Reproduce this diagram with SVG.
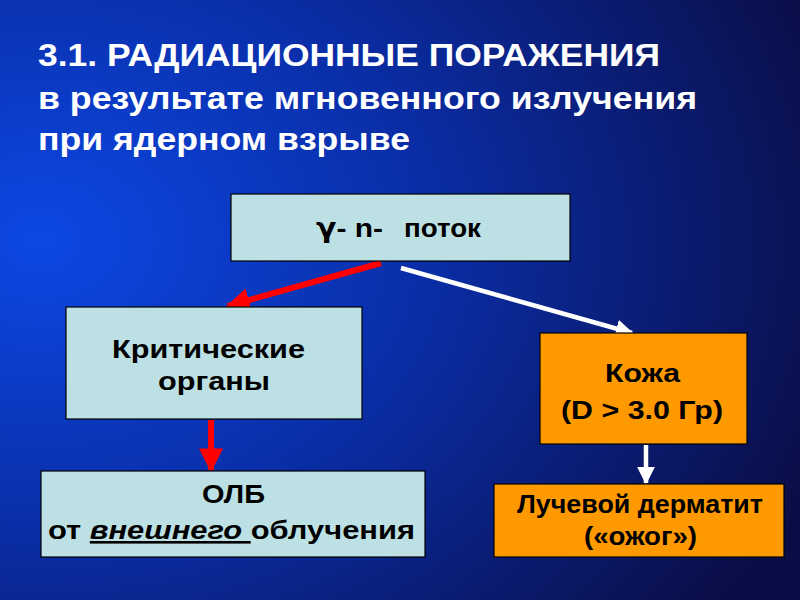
<svg xmlns="http://www.w3.org/2000/svg" width="800" height="600" viewBox="0 0 800 600">
<defs>
<radialGradient id="bg" cx="0.05" cy="0.4" r="1.05" fx="0.05" fy="0.4">
<stop offset="0" stop-color="#0c48e4"/>
<stop offset="0.45" stop-color="#0a2ea8"/>
<stop offset="1" stop-color="#0a0d45"/>
</radialGradient>
<marker id="hr" viewBox="0 0 10 10" refX="9" refY="5" markerWidth="4" markerHeight="4" orient="auto" markerUnits="strokeWidth">
<path d="M0,0 L10,5 L0,10 z" fill="#ff0000"/>
</marker>
<marker id="hw" viewBox="0 0 10 10" refX="9" refY="5" markerWidth="4" markerHeight="4" orient="auto" markerUnits="strokeWidth">
<path d="M0,0 L10,5 L0,10 z" fill="#ffffff"/>
</marker>
</defs>
<style>
.t{font-family:"Liberation Sans",Arial,sans-serif;font-weight:bold;fill:#ffffff;font-size:31px}
.b{font-family:"Liberation Sans",Arial,sans-serif;font-weight:bold;fill:#000000;font-size:26px}
.cy{fill:#bce0e3;stroke:#000;stroke-width:1.2}
.or{fill:#ff9900;stroke:#000;stroke-width:1.2}
</style>
<rect width="800" height="600" fill="url(#bg)"/>
<g id="title">
<text class="t" x="38" y="66" textLength="622" lengthAdjust="spacingAndGlyphs">3.1. РАДИАЦИОННЫЕ ПОРАЖЕНИЯ</text>
<text class="t" x="38" y="109" textLength="659" lengthAdjust="spacingAndGlyphs">в результате мгновенного излучения</text>
<text class="t" x="38" y="150" textLength="372" lengthAdjust="spacingAndGlyphs">при ядерном взрыве</text>
</g>
<g id="connectors">
<line x1="381" y1="263" x2="228" y2="306" stroke="#ff0000" stroke-width="6" marker-end="url(#hr)"/>
<line x1="401" y1="268" x2="632" y2="333" stroke="#ffffff" stroke-width="4.5" marker-end="url(#hw)"/>
<line x1="211" y1="420" x2="211" y2="470" stroke="#ff0000" stroke-width="6" marker-end="url(#hr)"/>
<line x1="646" y1="445" x2="646" y2="483" stroke="#ffffff" stroke-width="4.5" marker-end="url(#hw)"/>
</g>
<g id="flux">
<rect class="cy" x="231" y="194" width="339" height="67"/>
<text class="b" x="316" y="237" font-size="28" textLength="67" lengthAdjust="spacingAndGlyphs"><tspan font-family="'DejaVu Sans',sans-serif">γ</tspan>- n-</text>
<text class="b" x="404" y="237" font-size="28" textLength="77" lengthAdjust="spacingAndGlyphs">поток</text>
</g>
<g id="critical">
<rect class="cy" x="66" y="307" width="296" height="112"/>
<text class="b" x="112" y="358" textLength="193" lengthAdjust="spacingAndGlyphs">Критические</text>
<text class="b" x="158" y="390" textLength="112" lengthAdjust="spacingAndGlyphs">органы</text>
</g>
<g id="skin">
<rect class="or" x="540" y="333" width="207" height="111"/>
<text class="b" x="605" y="382" textLength="75" lengthAdjust="spacingAndGlyphs">Кожа</text>
<text class="b" x="561" y="419" textLength="162" lengthAdjust="spacingAndGlyphs">(D &gt; 3.0 Гр)</text>
</g>
<g id="olb">
<rect class="cy" x="41" y="471" width="384" height="86"/>
<text class="b" x="202" y="503" textLength="63" lengthAdjust="spacingAndGlyphs">ОЛБ</text>
<text class="b" x="48" y="539" textLength="367" lengthAdjust="spacingAndGlyphs">от <tspan font-style="italic" text-decoration="underline">внешнего </tspan>облучения</text>
</g>
<g id="dermatitis">
<rect class="or" x="494" y="484" width="290" height="73"/>
<text class="b" x="517" y="513" font-size="24" textLength="246" lengthAdjust="spacingAndGlyphs">Лучевой дерматит</text>
<text class="b" x="584" y="545" font-size="24" textLength="113" lengthAdjust="spacingAndGlyphs">(«ожог»)</text>
</g>
</svg>
